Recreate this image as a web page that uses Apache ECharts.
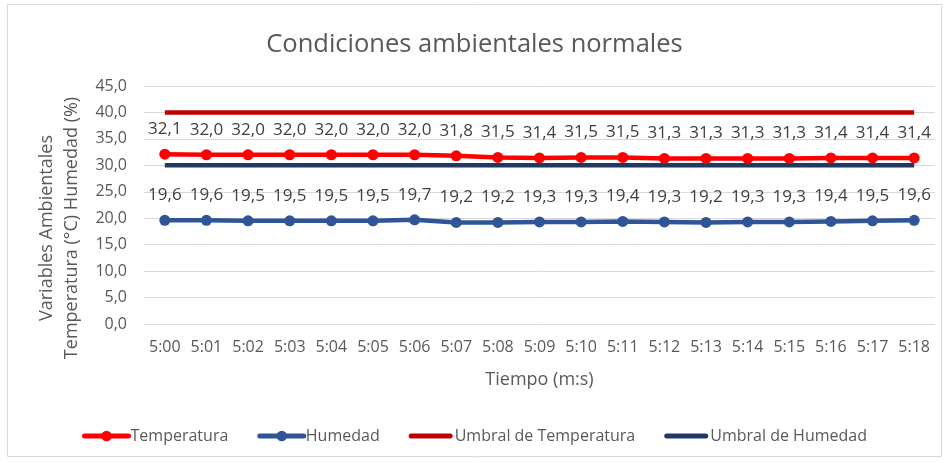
<!DOCTYPE html>
<html><head><meta charset="utf-8">
<script src="https://cdn.jsdelivr.net/npm/echarts@6/dist/echarts.min.js"></script>
<style>html,body{margin:0;padding:0;background:#fff}#c{width:949px;height:463px}</style>
</head><body><div id="c"></div>
<script>
const categories = ['5:00','5:01','5:02','5:03','5:04','5:05','5:06','5:07','5:08','5:09','5:10','5:11','5:12','5:13','5:14','5:15','5:16','5:17','5:18'];
const temperatura = [32.1,32.0,32.0,32.0,32.0,32.0,32.0,31.8,31.5,31.4,31.5,31.5,31.3,31.3,31.3,31.3,31.4,31.4,31.4];
const humedad = [19.6,19.6,19.5,19.5,19.5,19.5,19.7,19.2,19.2,19.3,19.3,19.4,19.3,19.2,19.3,19.3,19.4,19.5,19.6];
const umbralTemperatura = categories.map(() => 40);
const umbralHumedad = categories.map(() => 30);
const fmt = v => v.toFixed(1).replace('.', ',');
const font = "'Open Sans', 'Noto Sans', sans-serif";
const barIcon = 'path://M2.5,0 L41.5,0 A2.5,2.5 0 0 1 41.5,5 L2.5,5 A2.5,2.5 0 0 1 2.5,0 Z';

const chart = echarts.init(document.getElementById('c'), null, {renderer: 'canvas'});
const lbl = {show: true, position: 'top', distance: 11, color: '#404040', fontSize: 17, fontFamily: font,
  formatter: p => fmt(p.value)};
chart.setOption({
  animation: false,
  textStyle: {fontFamily: font},
  graphic: [{type: 'rect', shape: {x: 7.5, y: 4.5, width: 934, height: 452}, style: {fill: 'none', stroke: '#d9d9d9', lineWidth: 1}, silent: true}],
  title: {text: 'Condiciones ambientales normales', left: 'center', top: 27,
    textStyle: {fontSize: 25.5, fontWeight: 'normal', color: '#595959', fontFamily: font}},
  grid: {left: 144, right: 14, top: 86, bottom: 139},
  legend: {bottom: 14, left: 'center', itemWidth: 44, itemHeight: 13, itemGap: 29, symbolKeepAspect: true,
    lineStyle: {width: 5, cap: 'round'},
    textStyle: {color: '#595959', fontSize: 16, fontFamily: font, padding: [0,0,0,-3]},
    data: [{name: 'Temperatura'}, {name: 'Humedad'},
      {name: 'Umbral de Temperatura', icon: barIcon}, {name: 'Umbral de Humedad', icon: barIcon}]},
  xAxis: {type: 'category', data: categories, boundaryGap: true,
    name: 'Tiempo (m:s)', nameLocation: 'middle', nameGap: 47,
    nameTextStyle: {color: '#595959', fontSize: 18, fontFamily: font},
    axisLine: {show: false}, axisTick: {show: false},
    axisLabel: {color: '#595959', fontSize: 16, margin: 15, fontFamily: font}},
  yAxis: {type: 'value', min: 0, max: 45, interval: 5,
    name: 'Variables Ambientales\nTemperatura (°C) Humedad (%)', nameLocation: 'middle', nameGap: 58,
    nameTextStyle: {color: '#595959', fontSize: 18, lineHeight: 25, fontFamily: font, padding: [0,46,0,0]},
    axisLine: {show: false}, axisTick: {show: false},
    axisLabel: {color: '#595959', fontSize: 16, margin: 17, formatter: v => fmt(v), fontFamily: font},
    splitLine: {lineStyle: {color: '#d9d9d9', width: 1}}},
  series: [
    {name: 'Umbral de Temperatura', type: 'line', data: umbralTemperatura, showSymbol: false, symbol: 'none',
      lineStyle: {color: '#C00000', width: 4.5}, itemStyle: {color: '#C00000'}, z: 1},
    {name: 'Umbral de Humedad', type: 'line', data: umbralHumedad, showSymbol: false, symbol: 'none',
      lineStyle: {color: '#203864', width: 4.5}, itemStyle: {color: '#203864'}, z: 1},
    {name: 'Temperatura', type: 'line', data: temperatura, symbol: 'circle', symbolSize: 11,
      lineStyle: {color: '#FF0000', width: 4.5}, itemStyle: {color: '#FF0000'}, label: lbl, z: 3},
    {name: 'Humedad', type: 'line', data: humedad, symbol: 'circle', symbolSize: 11,
      lineStyle: {color: '#2F5597', width: 4.5}, itemStyle: {color: '#2F5597'}, label: lbl, z: 3}
  ]
});
</script></body></html>
